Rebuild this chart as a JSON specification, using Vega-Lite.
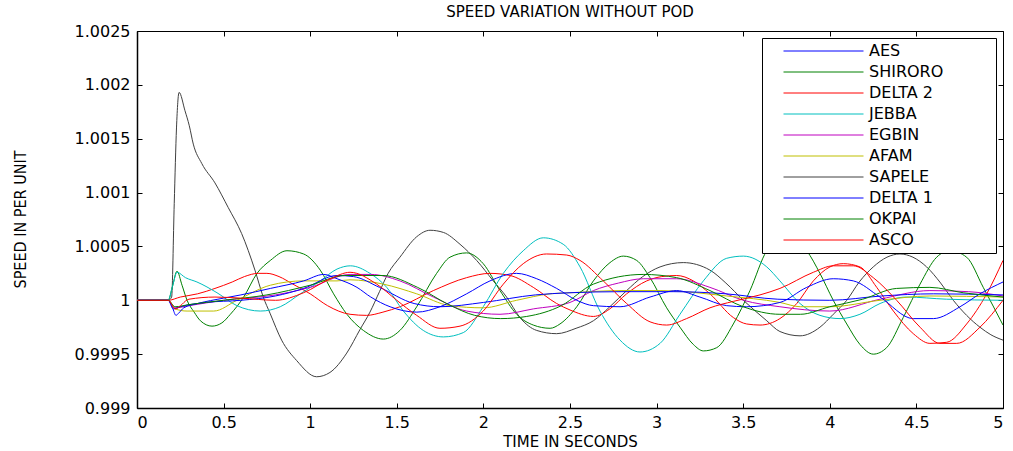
{
  "$schema": "https://vega.github.io/schema/vega-lite/v6.json",
  "width": 866,
  "height": 377,
  "autosize": "none",
  "padding": {"left": 137, "top": 31, "right": 10, "bottom": 43},
  "background": "white",
  "title": {"text": "SPEED VARIATION WITHOUT POD", "font": "DejaVu Sans", "fontSize": 15, "fontWeight": "normal", "color": "black", "offset": 3, "anchor": "middle"},
  "config": {
    "view": {"stroke": "black", "strokeWidth": 1},
    "axis": {"grid": false, "domainColor": "black", "domainWidth": 1.5, "tickColor": "black", "tickSize": -5, "labelColor": "black", "labelFont": "DejaVu Sans", "labelFontSize": 16, "titleColor": "black", "titleFontWeight": "normal"}
  },
  "data": {"values": [
    {"s":"SAPELE","t":0,"v":1},{"s":"SAPELE","t":0.18,"v":1},{"s":"SAPELE","t":0.2,"v":1.00003},{"s":"SAPELE","t":0.215,"v":1.0009},{"s":"SAPELE","t":0.228,"v":1.0016},{"s":"SAPELE","t":0.243,"v":1.00193},{"s":"SAPELE","t":0.277,"v":1.00176},{"s":"SAPELE","t":0.302,"v":1.00162},{"s":"SAPELE","t":0.325,"v":1.00145},{"s":"SAPELE","t":0.374,"v":1.00127},{"s":"SAPELE","t":0.45,"v":1.00109},{"s":"SAPELE","t":0.527,"v":1.00086},{"s":"SAPELE","t":0.604,"v":1.00062},{"s":"SAPELE","t":0.681,"v":1.00028},{"s":"SAPELE","t":0.729,"v":1.00003},{"s":"SAPELE","t":0.768,"v":0.99988},{"s":"SAPELE","t":0.835,"v":0.99963},{"s":"SAPELE","t":0.922,"v":0.99944},{"s":"SAPELE","t":1.037,"v":0.99929},{"s":"SAPELE","t":1.114,"v":0.99933},{"s":"SAPELE","t":1.211,"v":0.99951},{"s":"SAPELE","t":1.288,"v":0.99973},{"s":"SAPELE","t":1.345,"v":0.99989},{"s":"SAPELE","t":1.4,"v":1.00008},{"s":"SAPELE","t":1.45,"v":1.00025},{"s":"SAPELE","t":1.518,"v":1.0004},{"s":"SAPELE","t":1.615,"v":1.00059},{"s":"SAPELE","t":1.692,"v":1.00065},{"s":"SAPELE","t":1.769,"v":1.00063},{"s":"SAPELE","t":1.865,"v":1.00052},{"s":"SAPELE","t":1.961,"v":1.00037},{"s":"SAPELE","t":2.057,"v":1.00018},{"s":"SAPELE","t":2.134,"v":1.00003},{"s":"SAPELE","t":2.211,"v":0.99984},{"s":"SAPELE","t":2.308,"v":0.99972},{"s":"SAPELE","t":2.423,"v":0.99969},{"s":"SAPELE","t":2.535,"v":0.99974},{"s":"SAPELE","t":2.635,"v":0.99981},{"s":"SAPELE","t":2.73,"v":0.99994},{"s":"SAPELE","t":2.827,"v":1.00009},{"s":"SAPELE","t":2.92,"v":1.00022},{"s":"SAPELE","t":3.02,"v":1.00031},{"s":"SAPELE","t":3.154,"v":1.00035},{"s":"SAPELE","t":3.308,"v":1.00028},{"s":"SAPELE","t":3.4,"v":1.00016},{"s":"SAPELE","t":3.501,"v":1.0},{"s":"SAPELE","t":3.636,"v":0.99981},{"s":"SAPELE","t":3.712,"v":0.99971},{"s":"SAPELE","t":3.828,"v":0.99967},{"s":"SAPELE","t":3.943,"v":0.99975},{"s":"SAPELE","t":4.02,"v":0.99987},{"s":"SAPELE","t":4.098,"v":1.0},{"s":"SAPELE","t":4.17,"v":1.00017},{"s":"SAPELE","t":4.251,"v":1.00031},{"s":"SAPELE","t":4.33,"v":1.0004},{"s":"SAPELE","t":4.405,"v":1.00043},{"s":"SAPELE","t":4.48,"v":1.0004},{"s":"SAPELE","t":4.559,"v":1.00031},{"s":"SAPELE","t":4.64,"v":1.00016},{"s":"SAPELE","t":4.713,"v":1.0},{"s":"SAPELE","t":4.79,"v":0.99986},{"s":"SAPELE","t":4.867,"v":0.99975},{"s":"SAPELE","t":4.93,"v":0.99968},{"s":"SAPELE","t":5,"v":0.99963},

    {"s":"SHIRORO","t":0,"v":1},{"s":"SHIRORO","t":0.18,"v":1},{"s":"SHIRORO","t":0.205,"v":1.00013},{"s":"SHIRORO","t":0.231,"v":1.00027},{"s":"SHIRORO","t":0.26,"v":1.00014},{"s":"SHIRORO","t":0.289,"v":1.0},{"s":"SHIRORO","t":0.33,"v":0.99989},{"s":"SHIRORO","t":0.366,"v":0.99981},{"s":"SHIRORO","t":0.433,"v":0.99976},{"s":"SHIRORO","t":0.49,"v":0.99979},{"s":"SHIRORO","t":0.539,"v":0.99987},{"s":"SHIRORO","t":0.616,"v":1.00003},{"s":"SHIRORO","t":0.693,"v":1.00025},{"s":"SHIRORO","t":0.77,"v":1.00037},{"s":"SHIRORO","t":0.866,"v":1.00046},{"s":"SHIRORO","t":0.962,"v":1.00043},{"s":"SHIRORO","t":1.058,"v":1.00028},{"s":"SHIRORO","t":1.135,"v":1.00006},{"s":"SHIRORO","t":1.212,"v":0.99987},{"s":"SHIRORO","t":1.307,"v":0.99972},{"s":"SHIRORO","t":1.422,"v":0.99964},{"s":"SHIRORO","t":1.518,"v":0.99972},{"s":"SHIRORO","t":1.615,"v":0.99994},{"s":"SHIRORO","t":1.73,"v":1.00025},{"s":"SHIRORO","t":1.807,"v":1.0004},{"s":"SHIRORO","t":1.903,"v":1.00044},{"s":"SHIRORO","t":1.999,"v":1.00034},{"s":"SHIRORO","t":2.096,"v":1.00009},{"s":"SHIRORO","t":2.192,"v":0.99987},{"s":"SHIRORO","t":2.288,"v":0.99977},{"s":"SHIRORO","t":2.385,"v":0.99974},{"s":"SHIRORO","t":2.442,"v":0.99978},{"s":"SHIRORO","t":2.539,"v":0.99994},{"s":"SHIRORO","t":2.635,"v":1.00018},{"s":"SHIRORO","t":2.731,"v":1.00035},{"s":"SHIRORO","t":2.808,"v":1.00041},{"s":"SHIRORO","t":2.885,"v":1.00037},{"s":"SHIRORO","t":2.962,"v":1.00021},{"s":"SHIRORO","t":3.058,"v":0.99993},{"s":"SHIRORO","t":3.135,"v":0.99975},{"s":"SHIRORO","t":3.212,"v":0.99959},{"s":"SHIRORO","t":3.27,"v":0.99953},{"s":"SHIRORO","t":3.347,"v":0.99956},{"s":"SHIRORO","t":3.443,"v":0.99978},{"s":"SHIRORO","t":3.539,"v":1.00009},{"s":"SHIRORO","t":3.636,"v":1.00046},{"s":"SHIRORO","t":3.75,"v":1.0006},{"s":"SHIRORO","t":3.867,"v":1.00046},{"s":"SHIRORO","t":3.943,"v":1.00025},{"s":"SHIRORO","t":4.02,"v":1.0},{"s":"SHIRORO","t":4.098,"v":0.99978},{"s":"SHIRORO","t":4.174,"v":0.99959},{"s":"SHIRORO","t":4.251,"v":0.9995},{"s":"SHIRORO","t":4.328,"v":0.99956},{"s":"SHIRORO","t":4.424,"v":0.99984},{"s":"SHIRORO","t":4.521,"v":1.00015},{"s":"SHIRORO","t":4.617,"v":1.0004},{"s":"SHIRORO","t":4.694,"v":1.00046},{"s":"SHIRORO","t":4.79,"v":1.0004},{"s":"SHIRORO","t":4.886,"v":1.00012},{"s":"SHIRORO","t":5,"v":0.99977},

    {"s":"DELTA 2","t":0,"v":1},{"s":"DELTA 2","t":0.18,"v":1},{"s":"DELTA 2","t":0.25,"v":1.00003},{"s":"DELTA 2","t":0.35,"v":1.00006},{"s":"DELTA 2","t":0.45,"v":1.00011},{"s":"DELTA 2","t":0.55,"v":1.00017},{"s":"DELTA 2","t":0.62,"v":1.00022},{"s":"DELTA 2","t":0.7,"v":1.00025},{"s":"DELTA 2","t":0.75,"v":1.00025},{"s":"DELTA 2","t":0.82,"v":1.00022},{"s":"DELTA 2","t":0.9,"v":1.00015},{"s":"DELTA 2","t":1.0,"v":1.00006},{"s":"DELTA 2","t":1.1,"v":0.99995},{"s":"DELTA 2","t":1.23,"v":0.99987},{"s":"DELTA 2","t":1.326,"v":0.99986},{"s":"DELTA 2","t":1.42,"v":0.99989},{"s":"DELTA 2","t":1.518,"v":0.99994},{"s":"DELTA 2","t":1.711,"v":1.00009},{"s":"DELTA 2","t":1.903,"v":1.00021},{"s":"DELTA 2","t":2.038,"v":1.00025},{"s":"DELTA 2","t":2.154,"v":1.00023},{"s":"DELTA 2","t":2.288,"v":1.00012},{"s":"DELTA 2","t":2.423,"v":0.99997},{"s":"DELTA 2","t":2.5,"v":0.99991},{"s":"DELTA 2","t":2.635,"v":0.99985},{"s":"DELTA 2","t":2.73,"v":0.99992},{"s":"DELTA 2","t":2.827,"v":1.00006},{"s":"DELTA 2","t":2.943,"v":1.00018},{"s":"DELTA 2","t":3.03,"v":1.00022},{"s":"DELTA 2","t":3.116,"v":1.00023},{"s":"DELTA 2","t":3.212,"v":1.00018},{"s":"DELTA 2","t":3.308,"v":1.00006},{"s":"DELTA 2","t":3.443,"v":0.99984},{"s":"DELTA 2","t":3.52,"v":0.99978},{"s":"DELTA 2","t":3.597,"v":0.99977},{"s":"DELTA 2","t":3.712,"v":0.99983},{"s":"DELTA 2","t":3.809,"v":0.99997},{"s":"DELTA 2","t":3.905,"v":1.00018},{"s":"DELTA 2","t":4.001,"v":1.00031},{"s":"DELTA 2","t":4.078,"v":1.00034},{"s":"DELTA 2","t":4.174,"v":1.00031},{"s":"DELTA 2","t":4.271,"v":1.00012},{"s":"DELTA 2","t":4.367,"v":0.9999},{"s":"DELTA 2","t":4.482,"v":0.99969},{"s":"DELTA 2","t":4.578,"v":0.9996},{"s":"DELTA 2","t":4.675,"v":0.99961},{"s":"DELTA 2","t":4.79,"v":0.99978},{"s":"DELTA 2","t":4.906,"v":1.00006},{"s":"DELTA 2","t":5,"v":1.00037},

    {"s":"JEBBA","t":0,"v":1},{"s":"JEBBA","t":0.18,"v":1},{"s":"JEBBA","t":0.205,"v":1.00013},{"s":"JEBBA","t":0.231,"v":1.00026},{"s":"JEBBA","t":0.28,"v":1.00021},{"s":"JEBBA","t":0.346,"v":1.00017},{"s":"JEBBA","t":0.462,"v":1.00007},{"s":"JEBBA","t":0.577,"v":0.99995},{"s":"JEBBA","t":0.712,"v":0.9999},{"s":"JEBBA","t":0.827,"v":0.99994},{"s":"JEBBA","t":0.943,"v":1.00006},{"s":"JEBBA","t":1.058,"v":1.00018},{"s":"JEBBA","t":1.155,"v":1.00029},{"s":"JEBBA","t":1.232,"v":1.00032},{"s":"JEBBA","t":1.345,"v":1.00025},{"s":"JEBBA","t":1.442,"v":1.00012},{"s":"JEBBA","t":1.538,"v":0.9999},{"s":"JEBBA","t":1.653,"v":0.99972},{"s":"JEBBA","t":1.769,"v":0.99966},{"s":"JEBBA","t":1.884,"v":0.9997},{"s":"JEBBA","t":1.999,"v":0.99994},{"s":"JEBBA","t":2.115,"v":1.00025},{"s":"JEBBA","t":2.23,"v":1.00046},{"s":"JEBBA","t":2.346,"v":1.00058},{"s":"JEBBA","t":2.461,"v":1.00052},{"s":"JEBBA","t":2.558,"v":1.00031},{"s":"JEBBA","t":2.673,"v":0.9999},{"s":"JEBBA","t":2.789,"v":0.99963},{"s":"JEBBA","t":2.904,"v":0.99952},{"s":"JEBBA","t":3.02,"v":0.9996},{"s":"JEBBA","t":3.135,"v":0.99987},{"s":"JEBBA","t":3.27,"v":1.00018},{"s":"JEBBA","t":3.405,"v":1.00039},{"s":"JEBBA","t":3.501,"v":1.00041},{"s":"JEBBA","t":3.636,"v":1.00031},{"s":"JEBBA","t":3.712,"v":1.00018},{"s":"JEBBA","t":3.828,"v":0.99997},{"s":"JEBBA","t":3.943,"v":0.99986},{"s":"JEBBA","t":4.059,"v":0.99983},{"s":"JEBBA","t":4.174,"v":0.99987},{"s":"JEBBA","t":4.29,"v":0.99997},{"s":"JEBBA","t":4.444,"v":1.00003},{"s":"JEBBA","t":4.675,"v":1.00001},{"s":"JEBBA","t":5,"v":1.0},

    {"s":"EGBIN","t":0,"v":1},{"s":"EGBIN","t":0.18,"v":1},{"s":"EGBIN","t":0.22,"v":0.99993},{"s":"EGBIN","t":0.3,"v":0.99995},{"s":"EGBIN","t":0.5,"v":1.0},{"s":"EGBIN","t":0.8,"v":1.00005},{"s":"EGBIN","t":1.0,"v":1.00012},{"s":"EGBIN","t":1.23,"v":1.00024},{"s":"EGBIN","t":1.35,"v":1.00024},{"s":"EGBIN","t":1.518,"v":1.00018},{"s":"EGBIN","t":1.711,"v":1.00003},{"s":"EGBIN","t":1.903,"v":0.9999},{"s":"EGBIN","t":2.096,"v":0.99987},{"s":"EGBIN","t":2.288,"v":0.99992},{"s":"EGBIN","t":2.5,"v":0.99998},{"s":"EGBIN","t":2.635,"v":1.00009},{"s":"EGBIN","t":2.78,"v":1.00016},{"s":"EGBIN","t":2.923,"v":1.0002},{"s":"EGBIN","t":3.116,"v":1.0002},{"s":"EGBIN","t":3.308,"v":1.00012},{"s":"EGBIN","t":3.501,"v":1.0},{"s":"EGBIN","t":3.712,"v":0.99994},{"s":"EGBIN","t":4.0,"v":0.9999},{"s":"EGBIN","t":4.29,"v":1.00001},{"s":"EGBIN","t":4.578,"v":1.00009},{"s":"EGBIN","t":4.8,"v":1.00008},{"s":"EGBIN","t":5,"v":1.00004},

    {"s":"AFAM","t":0,"v":1},{"s":"AFAM","t":0.18,"v":1},{"s":"AFAM","t":0.22,"v":0.99992},{"s":"AFAM","t":0.289,"v":0.9999},{"s":"AFAM","t":0.443,"v":0.9999},{"s":"AFAM","t":0.577,"v":1.0},{"s":"AFAM","t":0.77,"v":1.00014},{"s":"AFAM","t":0.962,"v":1.00018},{"s":"AFAM","t":1.155,"v":1.00018},{"s":"AFAM","t":1.23,"v":1.00019},{"s":"AFAM","t":1.422,"v":1.00015},{"s":"AFAM","t":1.615,"v":1.00006},{"s":"AFAM","t":1.807,"v":0.99995},{"s":"AFAM","t":1.999,"v":0.99993},{"s":"AFAM","t":2.192,"v":1.0},{"s":"AFAM","t":2.385,"v":1.00006},{"s":"AFAM","t":2.5,"v":1.00007},{"s":"AFAM","t":2.8,"v":1.00009},{"s":"AFAM","t":3.02,"v":1.00009},{"s":"AFAM","t":3.405,"v":1.00004},{"s":"AFAM","t":3.712,"v":0.99998},{"s":"AFAM","t":3.83,"v":0.99994},{"s":"AFAM","t":4.0,"v":0.99994},{"s":"AFAM","t":4.29,"v":1.0},{"s":"AFAM","t":4.578,"v":1.00004},{"s":"AFAM","t":5,"v":1.00003},

    {"s":"DELTA 1","t":0,"v":1},{"s":"DELTA 1","t":0.18,"v":1},{"s":"DELTA 1","t":0.21,"v":0.99992},{"s":"DELTA 1","t":0.25,"v":0.99994},{"s":"DELTA 1","t":0.4,"v":0.99998},{"s":"DELTA 1","t":0.6,"v":1.0},{"s":"DELTA 1","t":0.8,"v":1.00004},{"s":"DELTA 1","t":0.962,"v":1.00011},{"s":"DELTA 1","t":1.155,"v":1.00023},{"s":"DELTA 1","t":1.25,"v":1.00022},{"s":"DELTA 1","t":1.4,"v":1.00012},{"s":"DELTA 1","t":1.6,"v":0.99997},{"s":"DELTA 1","t":1.75,"v":0.99994},{"s":"DELTA 1","t":2.0,"v":0.99998},{"s":"DELTA 1","t":2.3,"v":1.00005},{"s":"DELTA 1","t":2.5,"v":1.00007},{"s":"DELTA 1","t":2.8,"v":1.00008},{"s":"DELTA 1","t":3.1,"v":1.00008},{"s":"DELTA 1","t":3.4,"v":1.00006},{"s":"DELTA 1","t":3.7,"v":1.00001},{"s":"DELTA 1","t":4.0,"v":1.0},{"s":"DELTA 1","t":4.3,"v":1.00004},{"s":"DELTA 1","t":4.6,"v":1.00006},{"s":"DELTA 1","t":5,"v":1.00005},

    {"s":"AES","t":0,"v":1},{"s":"AES","t":0.18,"v":1},{"s":"AES","t":0.205,"v":0.99993},{"s":"AES","t":0.225,"v":0.99986},{"s":"AES","t":0.24,"v":0.99988},{"s":"AES","t":0.27,"v":0.99993},{"s":"AES","t":0.35,"v":0.99997},{"s":"AES","t":0.5,"v":1.00002},{"s":"AES","t":0.6,"v":1.00005},{"s":"AES","t":0.77,"v":1.00011},{"s":"AES","t":0.962,"v":1.00018},{"s":"AES","t":1.078,"v":1.00024},{"s":"AES","t":1.155,"v":1.0002},{"s":"AES","t":1.27,"v":1.00012},{"s":"AES","t":1.35,"v":1.00003},{"s":"AES","t":1.461,"v":0.99994},{"s":"AES","t":1.615,"v":0.99989},{"s":"AES","t":1.749,"v":0.99994},{"s":"AES","t":1.903,"v":1.00006},{"s":"AES","t":2.038,"v":1.00018},{"s":"AES","t":2.192,"v":1.00025},{"s":"AES","t":2.308,"v":1.0002},{"s":"AES","t":2.423,"v":1.00011},{"s":"AES","t":2.539,"v":1.0},{"s":"AES","t":2.635,"v":0.99995},{"s":"AES","t":2.789,"v":0.99994},{"s":"AES","t":2.962,"v":1.00003},{"s":"AES","t":3.116,"v":1.00009},{"s":"AES","t":3.25,"v":1.00003},{"s":"AES","t":3.405,"v":0.99995},{"s":"AES","t":3.52,"v":0.99994},{"s":"AES","t":3.712,"v":0.99998},{"s":"AES","t":3.867,"v":1.00012},{"s":"AES","t":4.02,"v":1.0002},{"s":"AES","t":4.136,"v":1.00018},{"s":"AES","t":4.29,"v":1.00003},{"s":"AES","t":4.482,"v":0.99983},{"s":"AES","t":4.598,"v":0.99983},{"s":"AES","t":4.752,"v":0.99994},{"s":"AES","t":4.867,"v":1.00006},{"s":"AES","t":5,"v":1.00017},

    {"s":"OKPAI","t":0,"v":1},{"s":"OKPAI","t":0.18,"v":1},{"s":"OKPAI","t":0.22,"v":0.99994},{"s":"OKPAI","t":0.3,"v":0.99996},{"s":"OKPAI","t":0.5,"v":1.0},{"s":"OKPAI","t":0.75,"v":1.00005},{"s":"OKPAI","t":1.0,"v":1.00014},{"s":"OKPAI","t":1.2,"v":1.00023},{"s":"OKPAI","t":1.42,"v":1.00023},{"s":"OKPAI","t":1.62,"v":1.00012},{"s":"OKPAI","t":1.8,"v":0.99996},{"s":"OKPAI","t":1.95,"v":0.99986},{"s":"OKPAI","t":2.1,"v":0.99983},{"s":"OKPAI","t":2.25,"v":0.99985},{"s":"OKPAI","t":2.45,"v":0.99995},{"s":"OKPAI","t":2.635,"v":1.00015},{"s":"OKPAI","t":2.923,"v":1.00024},{"s":"OKPAI","t":3.116,"v":1.00021},{"s":"OKPAI","t":3.308,"v":1.00009},{"s":"OKPAI","t":3.5,"v":0.99994},{"s":"OKPAI","t":3.712,"v":0.99987},{"s":"OKPAI","t":3.83,"v":0.99987},{"s":"OKPAI","t":4.0,"v":0.99994},{"s":"OKPAI","t":4.19,"v":1.00001},{"s":"OKPAI","t":4.386,"v":1.00011},{"s":"OKPAI","t":4.578,"v":1.00012},{"s":"OKPAI","t":4.77,"v":1.00007},{"s":"OKPAI","t":5,"v":1.00003},

    {"s":"ASCO","t":0,"v":1},{"s":"ASCO","t":0.18,"v":1},{"s":"ASCO","t":0.22,"v":0.99992},{"s":"ASCO","t":0.3,"v":1.00001},{"s":"ASCO","t":0.45,"v":1.00003},{"s":"ASCO","t":0.6,"v":1.00002},{"s":"ASCO","t":0.8,"v":1.0},{"s":"ASCO","t":0.962,"v":1.00007},{"s":"ASCO","t":1.116,"v":1.0002},{"s":"ASCO","t":1.23,"v":1.00026},{"s":"ASCO","t":1.384,"v":1.00015},{"s":"ASCO","t":1.5,"v":1.0},{"s":"ASCO","t":1.615,"v":0.99986},{"s":"ASCO","t":1.749,"v":0.99974},{"s":"ASCO","t":1.865,"v":0.99976},{"s":"ASCO","t":1.999,"v":0.9999},{"s":"ASCO","t":2.115,"v":1.00015},{"s":"ASCO","t":2.23,"v":1.00034},{"s":"ASCO","t":2.365,"v":1.00043},{"s":"ASCO","t":2.481,"v":1.00042},{"s":"ASCO","t":2.558,"v":1.00037},{"s":"ASCO","t":2.692,"v":1.00018},{"s":"ASCO","t":2.827,"v":0.99997},{"s":"ASCO","t":2.962,"v":0.9998},{"s":"ASCO","t":3.058,"v":0.99977},{"s":"ASCO","t":3.173,"v":0.99983},{"s":"ASCO","t":3.308,"v":0.99993},{"s":"ASCO","t":3.443,"v":0.99999},{"s":"ASCO","t":3.597,"v":1.00005},{"s":"ASCO","t":3.712,"v":1.00011},{"s":"ASCO","t":3.905,"v":1.00026},{"s":"ASCO","t":4.02,"v":1.00032},{"s":"ASCO","t":4.136,"v":1.00032},{"s":"ASCO","t":4.251,"v":1.00021},{"s":"ASCO","t":4.386,"v":1.0},{"s":"ASCO","t":4.521,"v":0.99975},{"s":"ASCO","t":4.636,"v":0.9996},{"s":"ASCO","t":4.733,"v":0.9996},{"s":"ASCO","t":4.867,"v":0.99975},{"s":"ASCO","t":5,"v":1.0}
  ]},
  "resolve": {"axis": {"x": "independent", "y": "independent"}},
  "layer": [
    {
      "mark": {"type": "point", "opacity": 0},
      "encoding": {
        "x": {"field": "t", "type": "quantitative", "scale": {"domain": [0, 5], "nice": false, "zero": false},
              "axis": {"orient": "top", "values": [0,0.5,1,1.5,2,2.5,3,3.5,4,4.5,5], "labels": false, "title": null, "domain": false, "tickSize": -5}},
        "y": {"field": "v", "type": "quantitative", "scale": {"domain": [0.999, 1.0025], "nice": false, "zero": false},
              "axis": {"orient": "right", "values": [0.999,0.9995,1,1.0005,1.001,1.0015,1.002,1.0025], "labels": false, "title": null, "domain": false, "tickSize": -5}}
      }
    },
    {
      "mark": {"type": "line", "strokeWidth": 1, "interpolate": "monotone", "clip": true},
      "encoding": {
        "x": {"field": "t", "type": "quantitative", "scale": {"domain": [0, 5], "nice": false, "zero": false},
              "axis": {"orient": "bottom", "values": [0,0.5,1,1.5,2,2.5,3,3.5,4,4.5,5], "format": "~g", "labelPadding": 11, "title": "TIME IN SECONDS", "titleFont": "DejaVu Sans", "titleFontSize": 15, "titleY": 26, "titleBaseline": "top"}},
        "y": {"field": "v", "type": "quantitative", "scale": {"domain": [0.999, 1.0025], "nice": false, "zero": false},
              "axis": {"orient": "left", "values": [0.999,0.9995,1,1.0005,1.001,1.0015,1.002,1.0025], "format": "~g", "labelPadding": 12, "title": "SPEED IN PER UNIT", "titleFont": "Liberation Sans Narrow, DejaVu Sans Condensed, sans-serif", "titleFontSize": 16, "titleX": -117, "titleY": 188, "titleAngle": -90, "titleBaseline": "middle", "titleAlign": "center"}},
        "color": {"field": "s", "type": "nominal",
          "scale": {"domain": ["AES","SHIRORO","DELTA 2","JEBBA","EGBIN","AFAM","SAPELE","DELTA 1","OKPAI","ASCO"],
                    "range": ["#0000FF","#008000","#FF0000","#00BFBF","#BF00BF","#BFBF00","#404040","#0000FF","#008000","#FF0000"]},
          "legend": {"title": null, "orient": "top-right", "offset": 7, "fillColor": "white", "strokeColor": "black", "padding": 5,
                     "symbolType": "stroke", "symbolSize": 6400, "symbolStrokeWidth": 1, "symbolOffset": 16, "clipHeight": 16, "rowPadding": 5,
                     "labelOffset": 5, "labelFont": "DejaVu Sans", "labelFontSize": 16, "labelColor": "black",
                     "labelExpr": "datum.label + '\u2800\u2800\u2800\u2800'"}
        }
      }
    }
  ]
}
